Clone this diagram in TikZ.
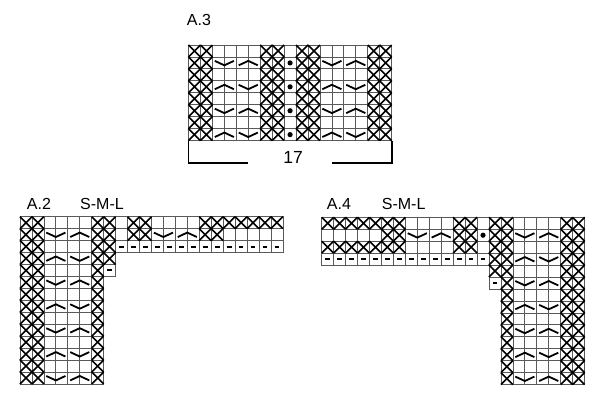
\documentclass[tikz,border=0pt]{standalone}
\usepackage{fontspec}
\setmainfont{Liberation Sans}
\newcommand\kE[2]{\draw[gridln] (#1-1,#2) rectangle (#1,#2+1);}
\newcommand\kX[2]{\draw[xmark] (#1-1,#2)--(#1,#2+1) (#1-1,#2+1)--(#1,#2);}
\newcommand\kV[2]{\draw[chev] (#1-0.8,#2+0.33)--(#1,#2+0.7)--(#1+0.8,#2+0.33);}
\newcommand\kA[2]{\draw[chev] (#1-0.8,#2+0.7)--(#1,#2+0.33)--(#1+0.8,#2+0.7);}
\newcommand\kD[2]{\fill (#1-0.5,#2+0.5) circle (2.6pt);}
\newcommand\kM[2]{\draw[minus] (#1-0.7,#2+0.5)--(#1-0.3,#2+0.5);}
\begin{document}
\begin{tikzpicture}[x=1pt,y=-1pt,
  gridln/.style={draw=black!65,line width=0.8pt},
  xmark/.style={line width=1.6pt,black},
  chev/.style={line width=1.8pt,black,line join=miter},
  minus/.style={line width=2pt,black},
  lab/.style={font=\fontsize{16}{19}\selectfont,anchor=base west,inner sep=0pt},
  brk/.style={line width=1.8pt,black}]
\useasboundingbox (0,0) rectangle (600,406);

% ---------- A.3 ----------
\node[lab] (la3) at (186.7,26) {A.3};
\begin{scope}[shift={(188.5pt,-45pt)},x=11.95pt,y=-11.95pt]
\foreach \c in {1,...,17}{\foreach \r in {0,...,7}{\kE{\c}{\r}}}
\foreach \c in {1,2,7,8,10,11,16,17}{\foreach \r in {0,...,7}{\kX{\c}{\r}}}
\foreach \r in {1,3,5,7}{\kD{9}{\r}}
\foreach \r in {1,5}{\kV{3}{\r}\kA{5}{\r}\kV{12}{\r}\kA{14}{\r}}
\foreach \r in {3,7}{\kA{3}{\r}\kV{5}{\r}\kA{12}{\r}\kV{14}{\r}}
\end{scope}
\draw[brk] (188.5,140.6)--(188.5,163.3)--(248,163.3);
\draw[brk] (332,163.3)--(391.7,163.3)--(391.7,140.6);
\node[font=\fontsize{17.5}{20}\selectfont,anchor=base,inner sep=0pt] (n17) at (293,164) {17};

% ---------- A.2 ----------
\node[lab] (la2) at (26.7,210) {A.2};
\node[lab] (sml2) at (80,210) {S-M-L};
\begin{scope}[shift={(20pt,-216.7pt)},x=11.95pt,y=-11.95pt]
\foreach \c in {1,...,22}{\foreach \r in {0,1,2}{\kE{\c}{\r}}}
\foreach \c in {1,...,8}{\foreach \r in {3,4}{\kE{\c}{\r}}}
\foreach \c in {1,...,7}{\foreach \r in {5,...,13}{\kE{\c}{\r}}}
\foreach \c in {1,2,7}{\foreach \r in {0,...,13}{\kX{\c}{\r}}}
\foreach \r in {0,...,3}{\kX{8}{\r}}
\foreach \c in {10,11,16,17,18,19,20,21,22}{\kX{\c}{0}}
\foreach \c in {10,11,16,17}{\kX{\c}{1}}
\foreach \c in {9,...,22}{\kM{\c}{2}}
\kM{8}{4}
\foreach \r in {1,5,9,13}{\kV{3}{\r}\kA{5}{\r}}
\foreach \r in {3,7,11}{\kA{3}{\r}\kV{5}{\r}}
\kV{12}{1}\kA{14}{1}
\end{scope}

% ---------- A.4 ----------
\node[lab] (la4) at (326.7,210) {A.4};
\node[lab] (sml4) at (381.7,210) {S-M-L};
\begin{scope}[shift={(321.7pt,-217.3pt)},x=11.95pt,y=-11.95pt]
\foreach \c in {1,...,22}{\foreach \r in {0,...,3}{\kE{\c}{\r}}}
\foreach \c in {15,...,22}{\foreach \r in {4,5}{\kE{\c}{\r}}}
\foreach \c in {16,...,22}{\foreach \r in {6,...,13}{\kE{\c}{\r}}}
\foreach \c in {16,21,22}{\foreach \r in {0,...,13}{\kX{\c}{\r}}}
\foreach \r in {0,...,4}{\kX{15}{\r}}
\foreach \c in {1,2,3,4,5,6,7,12,13}{\kX{\c}{0}\kX{\c}{2}}
\foreach \c in {6,7,12,13}{\kX{\c}{1}}
\kD{14}{1}
\foreach \c in {1,...,14}{\kM{\c}{3}}
\kM{15}{5}
\foreach \r in {1,5,9,13}{\kV{17}{\r}\kA{19}{\r}}
\foreach \r in {3,7,11}{\kA{17}{\r}\kV{19}{\r}}
\kV{8}{1}\kA{10}{1}
\end{scope}
\end{tikzpicture}
\end{document}
